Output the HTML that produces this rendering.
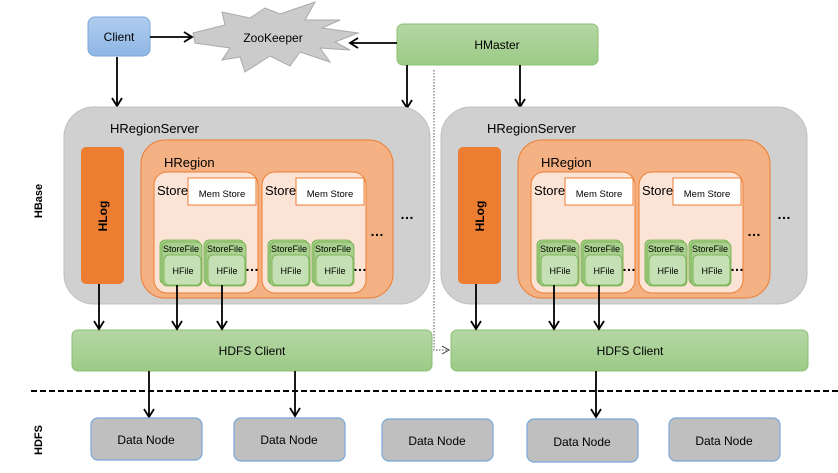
<!DOCTYPE html>
<html><head><meta charset="utf-8"><style>
html,body{margin:0;padding:0;background:#fff;}
svg{display:block;font-family:"Liberation Sans","DejaVu Sans",sans-serif;}
</style></head><body>
<svg width="838" height="473" viewBox="0 0 838 473" xmlns="http://www.w3.org/2000/svg">
<defs>
<marker id="ar" markerWidth="12" markerHeight="12" refX="10" refY="6" orient="auto" markerUnits="userSpaceOnUse">
<path d="M2,1 L10,6 L2,11" fill="none" stroke="#000" stroke-width="1.8"/>
</marker>
<marker id="ar2" markerWidth="10" markerHeight="10" refX="8" refY="5" orient="auto" markerUnits="userSpaceOnUse">
<path d="M1,1 L8,5 L1,9" fill="none" stroke="#333" stroke-width="1"/>
</marker>
<linearGradient id="g" x1="0" y1="0" x2="0" y2="1"><stop offset="0" stop-color="#b5d7a6"/><stop offset="1" stop-color="#9ccb86"/></linearGradient>
<linearGradient id="b" x1="0" y1="0" x2="0" y2="1"><stop offset="0" stop-color="#b0cdef"/><stop offset="1" stop-color="#8fb6e5"/></linearGradient>
<g id="srv">
<rect x="64" y="107" width="366" height="197" rx="30" fill="#d0d0d0" stroke="#bfbfbf"/>
<text x="110" y="133" font-size="13">HRegionServer</text>
<rect x="81" y="147" width="43" height="137" rx="5" fill="#ed7d31"/>
<text transform="translate(107,216) rotate(-90)" font-size="12" font-weight="bold" text-anchor="middle">HLog</text>
<rect x="141" y="140" width="252" height="158" rx="24" fill="#f4b183" stroke="#ed7d31"/>
<text x="164" y="167" font-size="13">HRegion</text>
<g id="st">
<rect x="154" y="172" width="104" height="121" rx="13" fill="#fbe4d5" stroke="#ed7d31"/>
<text x="157" y="195" font-size="13">Store</text>
<rect x="188" y="178" width="68" height="27" fill="#fff" stroke="#ed7d31"/>
<text x="222" y="197" font-size="9.5" text-anchor="middle">Mem Store</text>
<g id="sf">
<rect x="160" y="240" width="40" height="44" rx="5" fill="#a9d08e" stroke="#70ad47" stroke-width="0.8"/>
<rect x="162" y="242" width="40" height="44" rx="5" fill="#a9d08e" stroke="#70ad47" stroke-width="0.8"/>
<text x="181" y="252" font-size="9" text-anchor="middle">StoreFile</text>
<rect x="164" y="255" width="37" height="30" rx="5" fill="#c5e0b4" stroke="#70ad47" stroke-width="0.8"/>
<text x="183" y="274" font-size="9" text-anchor="middle">HFile</text>
</g>
<use href="#sf" transform="translate(44,0)"/>
<text x="245" y="271" font-size="14" font-weight="bold">…</text>
</g>
<use href="#st" transform="translate(108,0)"/>
<text x="370" y="236" font-size="14" font-weight="bold">…</text>
<text x="400" y="219" font-size="14" font-weight="bold">…</text>
</g>
</defs>

<rect x="88" y="17" width="62" height="39" rx="7" fill="url(#b)" stroke="#7aa7db"/>
<text x="119" y="41" font-size="12" text-anchor="middle">Client</text>
<polygon points="193,33 225,25 222,12 250,18 265,8 280,14 315,2 305,20 340,20 322,28 358,33 335,42 350,50 320,48 330,62 300,52 290,66 270,56 245,72 240,57 222,60 230,48 195,43" fill="#cbcbcb" stroke="#aaa"/>
<text x="273" y="42" font-size="12" text-anchor="middle">ZooKeeper</text>
<rect x="397" y="24" width="201" height="41" rx="6" fill="url(#g)" stroke="#8cc06f"/>
<text x="497" y="49" font-size="12" text-anchor="middle">HMaster</text>

<line x1="150" y1="37" x2="192" y2="37" stroke="#000" stroke-width="1.8" marker-end="url(#ar)"/>
<line x1="397" y1="43" x2="350" y2="43" stroke="#000" stroke-width="1.8" marker-end="url(#ar)"/>
<line x1="117" y1="57" x2="117" y2="106" stroke="#000" stroke-width="1.8" marker-end="url(#ar)"/>
<line x1="407" y1="65" x2="407" y2="108" stroke="#000" stroke-width="1.8" marker-end="url(#ar)"/>
<line x1="520" y1="65" x2="520" y2="107" stroke="#000" stroke-width="1.8" marker-end="url(#ar)"/>

<text transform="translate(42,201) rotate(-90)" font-size="11" font-weight="bold" text-anchor="middle">HBase</text>
<text transform="translate(42,440) rotate(-90)" font-size="11" font-weight="bold" text-anchor="middle">HDFS</text>

<use href="#srv"/>
<use href="#srv" transform="translate(377,0)"/>

<polyline points="434,70 434,350 449,350" fill="none" stroke="#555" stroke-width="1" stroke-dasharray="1.5,1.5" marker-end="url(#ar2)"/>

<rect x="72" y="330" width="360" height="41" rx="6" fill="url(#g)" stroke="#8cc06f"/>
<text x="252" y="355" font-size="12" text-anchor="middle">HDFS Client</text>
<rect x="451" y="330" width="357" height="41" rx="6" fill="url(#g)" stroke="#8cc06f"/>
<text x="630" y="355" font-size="12" text-anchor="middle">HDFS Client</text>

<g stroke="#000" stroke-width="1.8">
<line x1="99" y1="284" x2="99" y2="329" marker-end="url(#ar)"/>
<line x1="177" y1="285" x2="177" y2="329" marker-end="url(#ar)"/>
<line x1="222" y1="285" x2="222" y2="329" marker-end="url(#ar)"/>
<line x1="476" y1="284" x2="476" y2="329" marker-end="url(#ar)"/>
<line x1="554" y1="285" x2="554" y2="329" marker-end="url(#ar)"/>
<line x1="599" y1="285" x2="599" y2="329" marker-end="url(#ar)"/>
<line x1="149" y1="371" x2="149" y2="417" marker-end="url(#ar)"/>
<line x1="295" y1="371" x2="295" y2="416" marker-end="url(#ar)"/>
<line x1="596" y1="371" x2="596" y2="417" marker-end="url(#ar)"/>
</g>

<line x1="31" y1="391" x2="838" y2="391" stroke="#000" stroke-width="2" stroke-dasharray="6,3"/>

<g fill="#bfbfbf" stroke="#7aa7db" stroke-width="1.2">
<rect x="91" y="418" width="111" height="42" rx="7"/>
<rect x="234" y="418" width="111" height="43" rx="7"/>
<rect x="382" y="419" width="111" height="42" rx="7"/>
<rect x="527" y="419" width="111" height="43" rx="7"/>
<rect x="669" y="418" width="111" height="43" rx="7"/>
</g>
<g font-size="12" text-anchor="middle">
<text x="146" y="444">Data Node</text>
<text x="289" y="444">Data Node</text>
<text x="437" y="445">Data Node</text>
<text x="582" y="446">Data Node</text>
<text x="724" y="445">Data Node</text>
</g>
</svg>
</body></html>
